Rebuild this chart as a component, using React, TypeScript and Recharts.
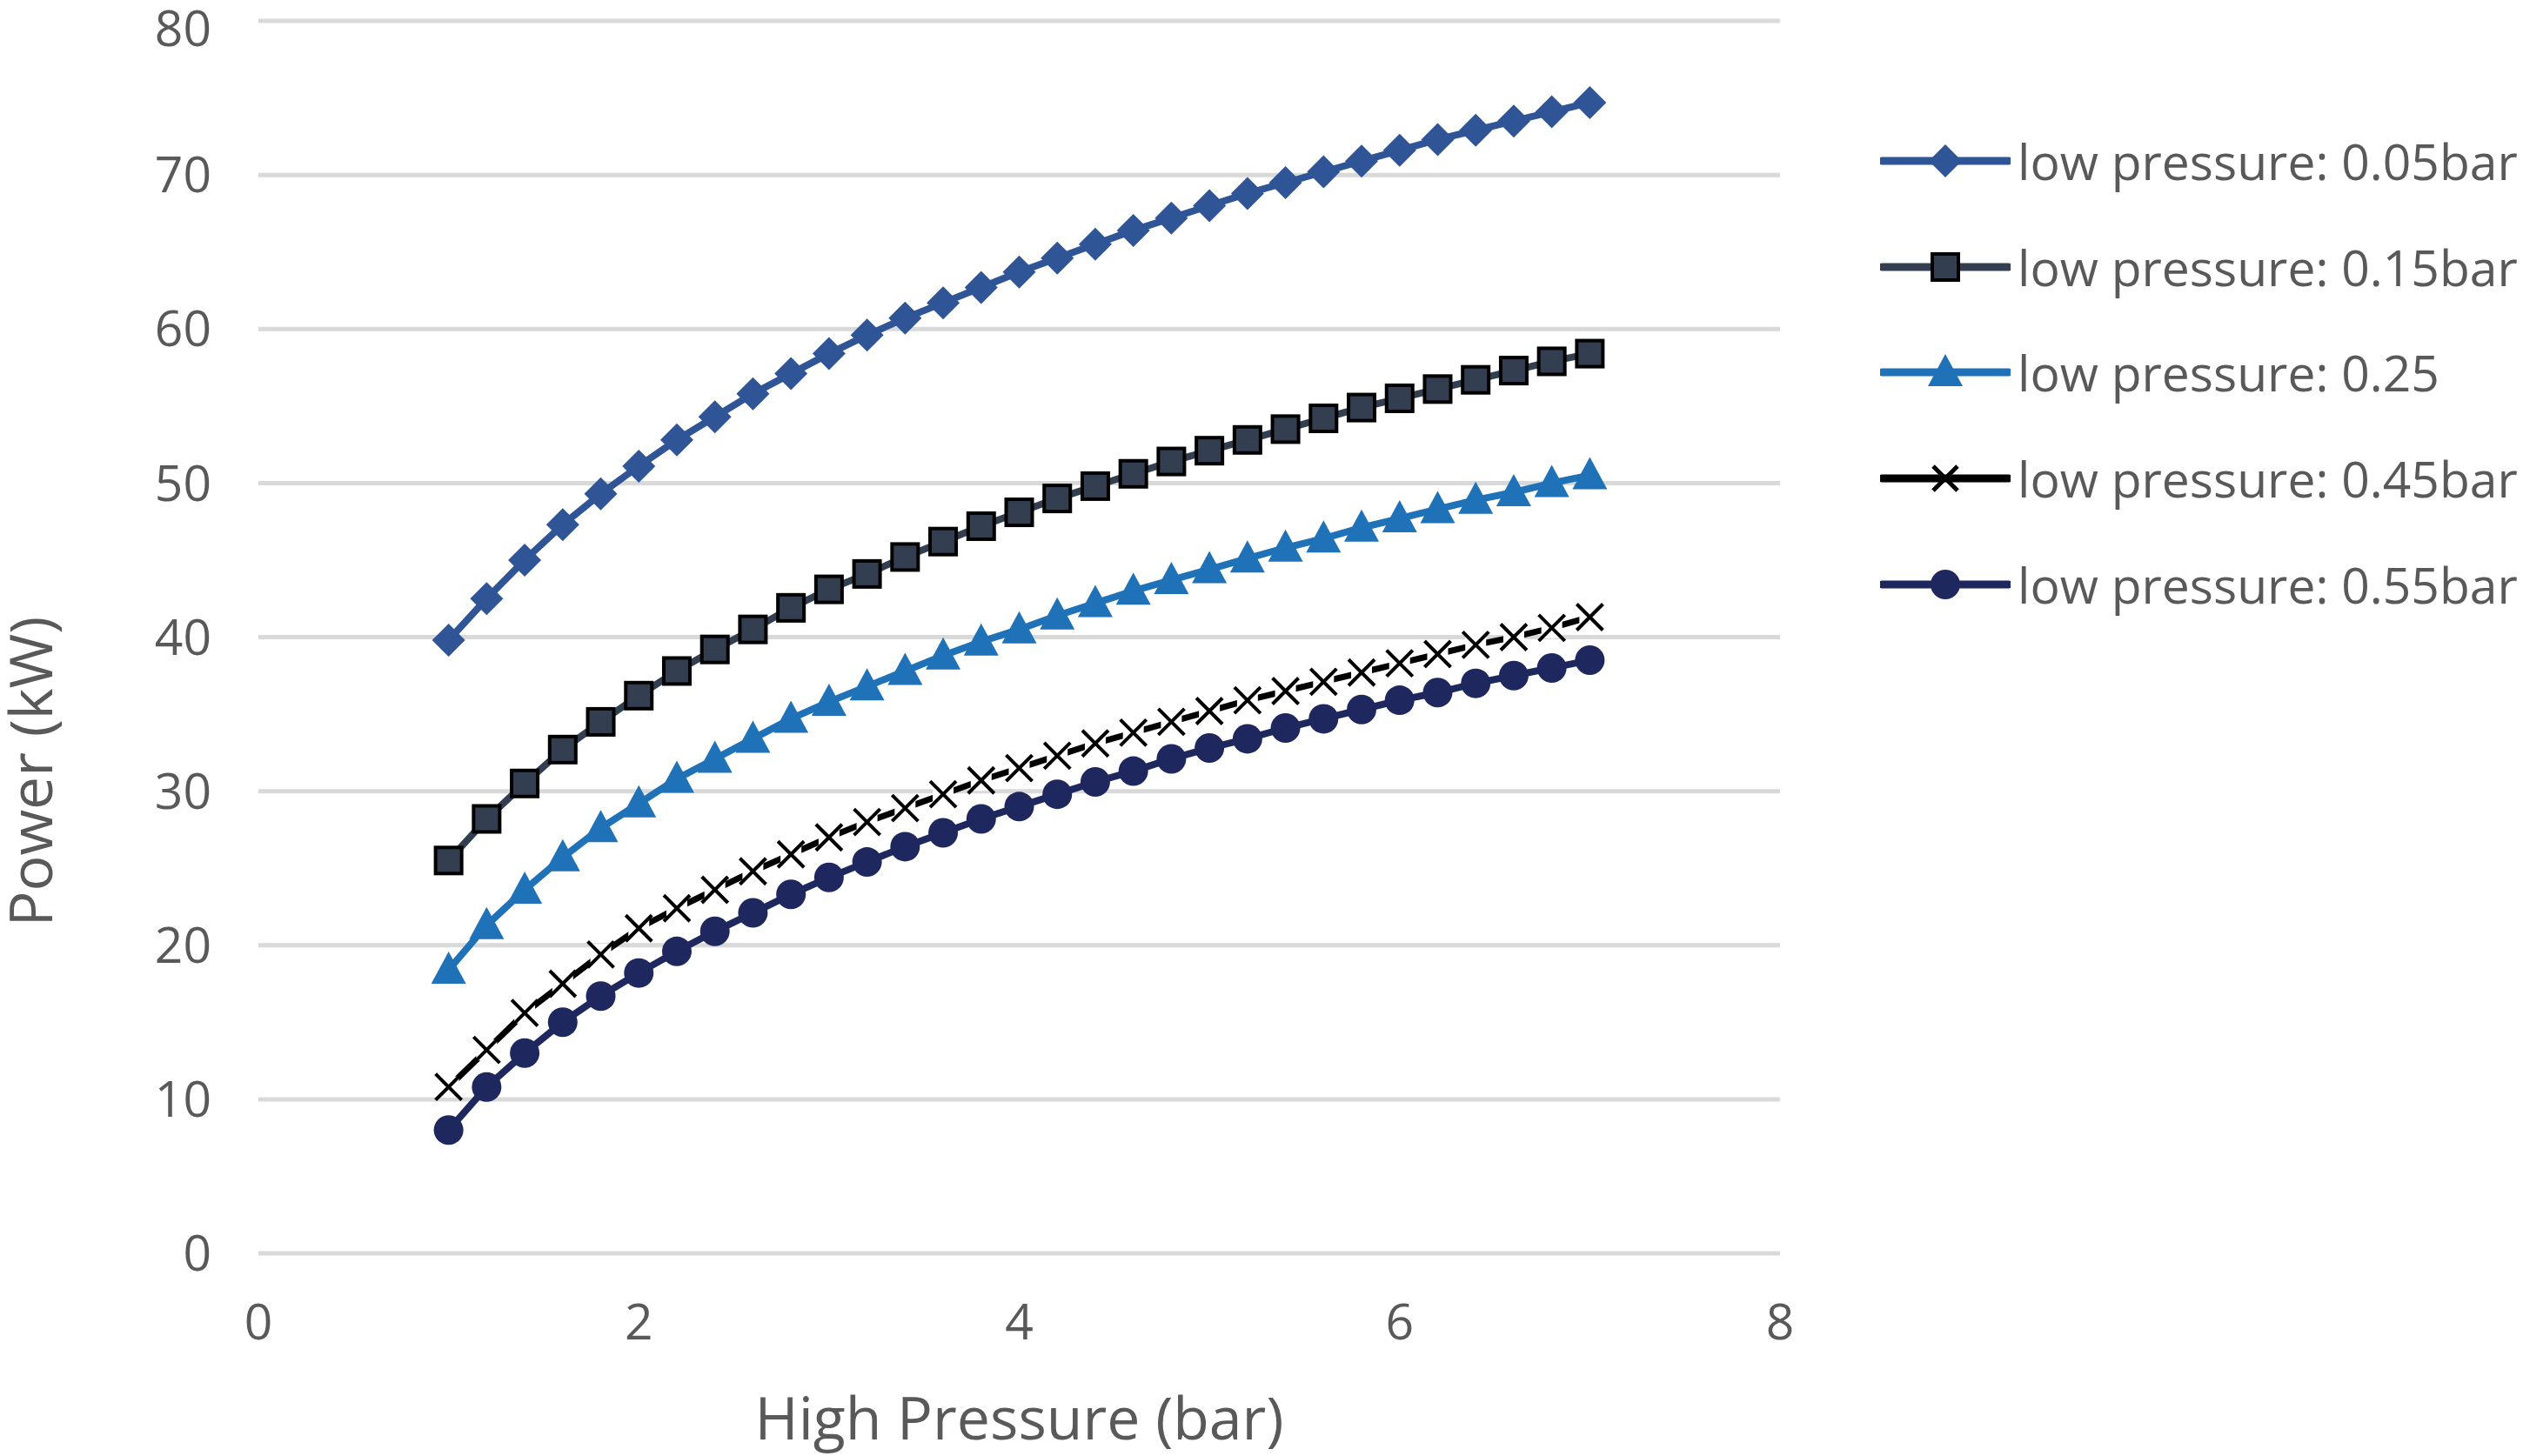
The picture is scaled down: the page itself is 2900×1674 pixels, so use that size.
import React from "react";
import { LineChart, Line, XAxis, YAxis, CartesianGrid } from "recharts";

const highPressure = [
  1, 1.2, 1.4, 1.6, 1.8, 2, 2.2, 2.4, 2.6, 2.8, 3, 3.2, 3.4, 3.6, 3.8, 4, 4.2,
  4.4, 4.6, 4.8, 5, 5.2, 5.4, 5.6, 5.8, 6, 6.2, 6.4, 6.6, 6.8, 7,
];

const lp005 = [
  39.8, 42.5, 45.0, 47.3, 49.3, 51.1, 52.8, 54.3, 55.8, 57.1, 58.4, 59.6, 60.7,
  61.7, 62.7, 63.7, 64.6, 65.5, 66.4, 67.2, 68.0, 68.8, 69.5, 70.2, 70.9, 71.6,
  72.3, 72.9, 73.5, 74.1, 74.7,
];
const lp015 = [
  25.5, 28.2, 30.5, 32.7, 34.5, 36.2, 37.8, 39.2, 40.5, 41.9, 43.1, 44.1, 45.2,
  46.2, 47.2, 48.1, 49.0, 49.8, 50.6, 51.4, 52.1, 52.8, 53.5, 54.2, 54.9, 55.5,
  56.1, 56.7, 57.3, 57.9, 58.4,
];
const lp025 = [
  18.4, 21.3, 23.6, 25.7, 27.6, 29.2, 30.8, 32.1, 33.4, 34.7, 35.8, 36.8, 37.8,
  38.8, 39.7, 40.5, 41.4, 42.2, 43.0, 43.7, 44.4, 45.1, 45.8, 46.4, 47.1, 47.7,
  48.3, 48.9, 49.4, 50.0, 50.5,
];
const lp045 = [
  10.8, 13.2, 15.6, 17.5, 19.4, 21.1, 22.4, 23.6, 24.8, 25.9, 27.0, 28.0, 28.9,
  29.8, 30.7, 31.5, 32.3, 33.1, 33.8, 34.5, 35.2, 35.9, 36.5, 37.1, 37.7, 38.3,
  38.9, 39.5, 40.0, 40.6, 41.3,
];
const lp055 = [
  8.0, 10.8, 13.0, 15.0, 16.7, 18.2, 19.6, 20.9, 22.1, 23.3, 24.4, 25.4, 26.4,
  27.3, 28.2, 29.0, 29.8, 30.6, 31.3, 32.1, 32.8, 33.4, 34.1, 34.7, 35.3, 35.9,
  36.4, 37.0, 37.5, 38.0, 38.5,
];

const xTicks = [0, 2, 4, 6, 8];
const yTicks = [0, 10, 20, 30, 40, 50, 60, 70, 80];

type Shape = "diamond" | "square" | "triangle" | "cross" | "circle";

const series: { key: string; name: string; color: string; shape: Shape; width: number }[] = [
  { key: "lp005", name: "low pressure: 0.05bar", color: "#2F5597", shape: "diamond", width: 8 },
  { key: "lp015", name: "low pressure: 0.15bar", color: "#333F50", shape: "square", width: 8 },
  { key: "lp025", name: "low pressure: 0.25", color: "#1F72B8", shape: "triangle", width: 8 },
  { key: "lp045", name: "low pressure: 0.45bar", color: "#000000", shape: "cross", width: 7 },
  { key: "lp055", name: "low pressure: 0.55bar", color: "#1F285E", shape: "circle", width: 8 },
];

const data = highPressure.map((x, i) => ({
  x,
  lp005: lp005[i],
  lp015: lp015[i],
  lp025: lp025[i],
  lp045: lp045[i],
  lp055: lp055[i],
}));

const FONT = "'Open Sans', sans-serif";
const TEXT = "#595959";

function Marker({ shape, color, cx, cy }: { shape: Shape; color: string; cx: number; cy: number }) {
  switch (shape) {
    case "diamond":
      return (
        <polygon
          points={`${cx},${cy - 19} ${cx + 19},${cy} ${cx},${cy + 19} ${cx - 19},${cy}`}
          fill={color}
        />
      );
    case "square":
      return (
        <rect x={cx - 15} y={cy - 15} width={30} height={30} fill={color} stroke="#000" strokeWidth={4} />
      );
    case "triangle":
      return (
        <polygon
          points={`${cx},${cy - 21} ${cx + 20},${cy + 16} ${cx - 20},${cy + 16}`}
          fill={color}
        />
      );
    case "cross":
      return (
        <g>
          <rect x={cx - 12} y={cy - 12} width={24} height={24} fill="#fff" />
          <line x1={cx - 15} y1={cy - 15} x2={cx + 15} y2={cy + 15} stroke="#000" strokeWidth={4} />
          <line x1={cx - 15} y1={cy + 15} x2={cx + 15} y2={cy - 15} stroke="#000" strokeWidth={4} />
        </g>
      );
    default:
      return <circle cx={cx} cy={cy} r={17} fill={color} />;
  }
}

function LegendBox() {
  return (
    <div
      style={{
        position: "absolute",
        left: 2161,
        top: 124,
        width: 739,
        overflow: "hidden",
        fontFamily: FONT,
        fontSize: 57,
        color: TEXT,
      }}
    >
      {series.map((s) => (
        <div key={s.key} style={{ display: "flex", alignItems: "center", height: 121.7, whiteSpace: "nowrap" }}>
          <svg width={150} height={50} style={{ flex: "none" }}>
            <line x1={2} y1={25} x2={148} y2={25} stroke={s.color} strokeWidth={9} strokeLinecap="round" />
            {s.shape === "cross" ? (
              <g>
                <line x1={61} y1={11} x2={89} y2={39} stroke="#000" strokeWidth={5} />
                <line x1={61} y1={39} x2={89} y2={11} stroke="#000" strokeWidth={5} />
              </g>
            ) : (
              <Marker shape={s.shape} color={s.color} cx={75} cy={25} />
            )}
          </svg>
          <span style={{ marginLeft: 8 }}>{s.name}</span>
        </div>
      ))}
    </div>
  );
}

export default function App() {
  return (
    <div
      style={{
        position: "absolute",
        left: 0,
        top: 0,
        width: 2900,
        height: 1674,
        overflow: "hidden",
        background: "#fff",
      }}
    >
      <LineChart
        width={2900}
        height={1674}
        data={data}
        margin={{ top: 24, right: 854, bottom: 0, left: 0 }}
      >
        <CartesianGrid vertical={false} stroke="#D9D9D9" strokeWidth={5} />
        <XAxis
          type="number"
          dataKey="x"
          domain={[0, 8]}
          ticks={xTicks}
          height={233}
          axisLine={false}
          tickLine={false}
          tickSize={0}
          tickMargin={59}
          tick={{ fill: TEXT, fontSize: 57, fontFamily: FONT }}
          label={({ viewBox }: any) => (
            <text
              x={viewBox.x + viewBox.width / 2}
              y={1655}
              textAnchor="middle"
              fill={TEXT}
              fontSize={68}
              fontFamily={FONT}
            >
              High Pressure (bar)
            </text>
          )}
        />
        <YAxis
          type="number"
          domain={[0, 80]}
          ticks={yTicks}
          width={297}
          axisLine={false}
          tickLine={false}
          tickSize={0}
          tickMargin={54}
          tick={{ fill: TEXT, fontSize: 57, fontFamily: FONT }}
          label={() => (
            <text
              x={60}
              y={887}
              transform="rotate(-90, 60, 887)"
              textAnchor="middle"
              fill={TEXT}
              fontSize={68}
              fontFamily={FONT}
            >
              Power (kW)
            </text>
          )}
        />
        {series.map((s) => (
          <Line
            key={s.key}
            dataKey={s.key}
            name={s.name}
            stroke={s.color}
            strokeWidth={s.width}
            type="linear"
            isAnimationActive={false}
            activeDot={false}
            dot={(p: any) => (
              <Marker key={`${s.key}-${p.index}`} shape={s.shape} color={s.color} cx={p.cx} cy={p.cy} />
            )}
          />
        ))}
      </LineChart>
      <LegendBox />
    </div>
  );
}
